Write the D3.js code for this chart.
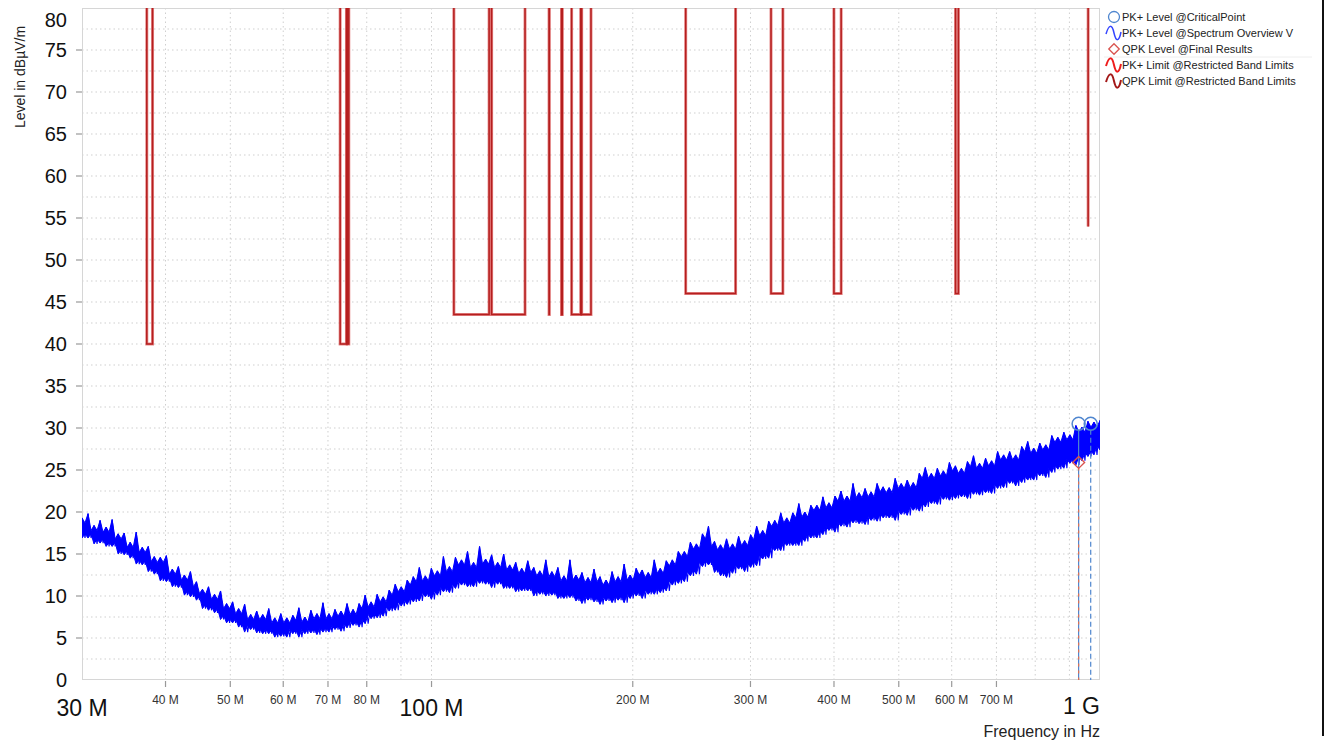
<!DOCTYPE html>
<html><head><meta charset="utf-8">
<script src="https://cdn.jsdelivr.net/npm/d3@7/dist/d3.min.js"></script>
<style>
html,body{margin:0;padding:0;background:#fff;}
svg{display:block;font-family:"Liberation Sans",Arial,sans-serif;}
</style></head>
<body>
<svg id="chart" width="1329" height="744"></svg>
<script>
// ---- data ----
const yTicks = [0,5,10,15,20,25,30,35,40,45,50,55,60,65,70,75,80];
const xMajorTicksMHz = [30, 100, 1000];
const xMajorLabels = ["30 M", "100 M", "1 G"];
const xMinorTicksMHz = [40, 50, 60, 70, 80, 200, 300, 400, 500, 600, 700];
const xMinorLabels = ["40 M","50 M","60 M","70 M","80 M","200 M","300 M","400 M","500 M","600 M","700 M"];
const xGridMHz = [40,50,60,70,80,90,100,200,300,400,500,600,700,800,900];

// restricted bands (MHz) and limit (dBµV/m)
const bandStartMHz = [37.5, 73, 74.8, 108, 123, 149.9, 156.52475, 156.7, 162.0125, 167.72, 240, 322, 399.9, 608, 960];
const bandStopMHz  = [38.25, 74.6, 75.2, 121.94, 138, 150.05, 156.52525, 156.9, 167.17, 173.2, 285, 335.4, 410, 614, 1240];
const bandLimit    = [40, 40, 40, 43.5, 43.5, 43.5, 43.5, 43.5, 43.5, 43.5, 46, 46, 46, 46, 54];

// spectrum overview sweep (30 MHz .. 1 GHz), per-bin max / min levels
const sweepStartMHz = 30, sweepStopMHz = 1000;
const traceMax = [19.3,19.8,18.4,19.0,18.2,19.1,17.4,17.5,16.4,17.6,15.8,15.9,14.7,14.6,14.8,13.2,13.5,12.5,12.9,11.7,
10.8,11.1,10.2,10.6,9.1,9.3,8.5,9.0,7.8,8.2,7.8,8.5,7.4,7.9,7.4,7.7,8.6,7.5,8.3,7.9,
9.2,7.9,8.4,8.2,9.1,8.4,9.1,10.1,9.3,10.2,9.9,10.7,11.4,11.1,11.9,12.3,13.4,12.4,13.3,13.0,
14.7,13.5,14.6,14.3,15.3,14.0,15.9,14.4,14.9,14.0,15.0,13.7,14.0,13.3,14.2,13.4,13.0,14.3,12.9,13.4,
12.4,14.3,12.5,12.8,12.2,13.2,12.3,11.9,12.9,12.3,13.8,12.5,13.3,13.1,12.8,14.3,13.3,14.2,14.3,15.3,
15.3,16.4,16.2,17.4,18.3,16.5,16.1,16.8,16.2,17.1,16.6,17.3,18.3,17.8,18.9,19.0,19.9,19.3,19.9,21.0,
20.0,20.8,20.8,21.8,21.1,21.9,22.5,21.9,23.4,22.3,22.8,22.4,23.4,23.0,22.9,24.0,23.4,23.8,23.5,24.6,
25.3,24.6,25.2,24.9,25.9,25.5,25.2,26.0,26.7,25.8,26.4,26.1,27.2,26.8,27.2,26.8,27.8,28.4,27.6,28.2,
28.0,29.1,28.9,29.5,29.2,30.3,30.1,30.8,30.7,30.9];
const traceMin = [16.9,16.9,16.2,16.3,15.9,15.9,15.0,14.9,14.5,13.8,13.7,12.9,12.6,11.8,11.7,11.1,11.0,10.1,9.9,9.5,
8.5,8.3,8.0,7.2,6.8,6.8,6.3,5.7,6.0,5.6,5.5,5.5,5.1,5.2,5.1,5.5,5.1,5.5,5.6,5.4,
5.7,5.7,6.0,5.8,6.2,6.5,6.3,6.7,7.3,7.4,7.6,8.2,8.3,8.8,9.0,9.3,9.4,9.9,9.6,10.1,
10.5,10.4,10.9,11.3,11.1,11.1,11.5,11.4,11.0,11.4,10.9,10.9,10.5,10.6,10.6,10.0,10.2,10.0,10.1,9.7,
9.7,9.8,9.4,9.1,9.5,9.3,9.0,9.4,9.2,9.5,9.2,9.7,10.0,9.7,10.2,10.2,10.4,10.6,11.3,11.5,
11.7,12.4,12.6,13.5,13.7,12.8,12.4,12.2,12.7,13.2,12.9,13.4,13.6,14.4,14.5,15.4,15.4,16.0,16.0,16.0,
16.5,16.9,16.9,17.3,17.8,17.6,18.3,18.2,18.7,18.6,18.5,19.0,18.9,19.3,19.3,19.0,19.7,19.6,20.2,20.1,
20.6,21.0,20.9,21.5,21.4,21.6,21.8,21.6,22.1,22.0,22.3,22.2,22.8,22.9,23.4,23.1,23.5,23.8,23.8,24.3,
24.1,24.7,25.1,25.2,25.8,25.6,26.1,26.6,26.8,27.4];

// critical points / final results
const critFreqMHz = [929, 968.5];
const critLevel = [30.5, 30.5];
const qpkFreqMHz = [929];
const qpkLevel = [25.9];

const legendLabels = ["PK+ Level @CriticalPoint","PK+ Level @Spectrum Overview V","QPK Level @Final Results","PK+ Limit @Restricted Band Limits","QPK Limit @Restricted Band Limits"];

// ---- drawing ----
const svg = d3.select("#chart");
const L = 82, R = 1100, T = 8, B = 680;
const x = d3.scaleLog().domain([30e6, 1e9]).range([L, R]);
const y = d3.scaleLinear().domain([0, 80]).range([B, T]);

svg.append("defs").append("clipPath").attr("id","plotclip")
  .append("rect").attr("x",L).attr("y",T).attr("width",R-L).attr("height",B-T);

// grid
const gridG = svg.append("g");
const yGrid = d3.range(0, 32).map(i => 2.5 * i).filter(v => v > 0 && v < 80);
gridG.selectAll("line.yg").data(yGrid).join("line")
  .attr("x1",L).attr("x2",R).attr("y1",d=>y(d)).attr("y2",d=>y(d))
  .attr("stroke","#cfcfcf").attr("stroke-width",1).attr("stroke-dasharray","1.5,3");
gridG.selectAll("line.xg").data(xGridMHz).join("line")
  .attr("x1",d=>x(d*1e6)).attr("x2",d=>x(d*1e6)).attr("y1",T).attr("y2",B)
  .attr("stroke","#cfcfcf").attr("stroke-width",1).attr("stroke-dasharray","1.5,3");

// frame
svg.append("rect").attr("x",L+0.5).attr("y",T+0.5).attr("width",R-L-1).attr("height",B-T-1)
  .attr("fill","none").attr("stroke","#d6d6d6").attr("stroke-width",1);

// y axis ticks & labels
svg.append("g").selectAll("line").data(yTicks.filter(v=>v<80 && v>0)).join("line")
  .attr("x1",L-6).attr("x2",L).attr("y1",d=>y(d)).attr("y2",d=>y(d))
  .attr("stroke","#999").attr("stroke-width",1.2);
svg.append("g").selectAll("text").data(yTicks).join("text")
  .attr("x",67).attr("y",d=>Math.max(y(d),20)+7)
  .attr("text-anchor","end").attr("font-size",20).attr("fill","#111")
  .text(d=>d);

// x axis ticks & labels
svg.append("g").selectAll("line").data(xMinorTicksMHz.concat([100])).join("line")
  .attr("x1",d=>x(d*1e6)).attr("x2",d=>x(d*1e6)).attr("y1",B+1).attr("y2",B+7)
  .attr("stroke","#999").attr("stroke-width",1.2);
svg.append("g").selectAll("text").data(xMinorTicksMHz).join("text")
  .attr("x",d=>x(d*1e6)).attr("y",B+24)
  .attr("text-anchor","middle").attr("font-size",12).attr("fill","#333")
  .text((d,i)=>xMinorLabels[i]);
svg.append("g").selectAll("text").data(xMajorTicksMHz).join("text")
  .attr("x",d=>Math.min(x(d*1e6), R)).attr("y",(d,i)=> i===2 ? B+34 : B+36)
  .attr("text-anchor",(d,i)=> i===2 ? "end" : "middle").attr("font-size",23).attr("fill","#111")
  .text((d,i)=>xMajorLabels[i]);

// axis titles
svg.append("text").attr("transform","translate(25,77) rotate(-90)")
  .attr("text-anchor","middle").attr("font-size",14).attr("fill","#222").text("Level in dBµV/m");
svg.append("text").attr("x",R).attr("y",737).attr("text-anchor","end")
  .attr("font-size",16).attr("fill","#222").text("Frequency in Hz");

const plot = svg.append("g").attr("clip-path","url(#plotclip)");

// spectrum overview trace: band between per-bin min and max, notched between bins
const N = traceMax.length;
const binF = i => sweepStartMHz * Math.pow(sweepStopMHz/sweepStartMHz, i/(N-1)) * 1e6;
const bins = traceMax.map((v,i)=>({f: binF(i), hi: v, lo: traceMin[i]}));
const upper = [], lower = [];
bins.forEach((d,i)=>{
  upper.push([d.f, d.hi]);
  lower.push([d.f, d.lo]);
  if (i < N-1) {
    const n = bins[i+1], fm = Math.sqrt(d.f*n.f);
    const top = Math.min(d.hi, n.hi), bot = Math.max(d.lo, n.lo);
    upper.push([fm, Math.max(top - 0.6, bot + 0.8)]);
    lower.push([fm, Math.min(bot + 0.5, top - 0.8)]);
  }
});
const bandPts = upper.map((u,k)=>({f:u[0], hi:u[1], lo:lower[k][1]}));
plot.append("path").datum(bandPts)
  .attr("d", d3.area().x(d=>x(d.f)).y0(d=>y(d.lo)).y1(d=>y(d.hi)))
  .attr("fill","#0000ff").attr("stroke","#0000ff").attr("stroke-width",1).attr("stroke-linejoin","miter");
// zig-zag through the per-bin extremes for the noisy texture
const zz = [];
bins.forEach((d,i)=>{
  const n = bins[Math.min(N-1,i+1)];
  zz.push([d.f, d.hi]);
  zz.push([Math.sqrt(d.f*n.f), d.lo]);
});
plot.append("path").datum(zz)
  .attr("d", d3.line().x(d=>x(d[0])).y(d=>y(d[1])))
  .attr("fill","none").attr("stroke","#0000ff").attr("stroke-width",1.1);

// limit lines
const TOPV = 120;
function limitSegs(){
  const segs = [];
  const dmax = x.domain()[1]/1e6;
  bandStartMHz.forEach((s,i)=>{
    const e = bandStopMHz[i], lv = bandLimit[i];
    if (e <= dmax) segs.push([[s,TOPV],[s,lv],[e,lv],[e,TOPV]]);
    else segs.push([[s,TOPV],[s,lv]]);
  });
  return segs;
}
const limLine = d3.line().x(d=>x(d[0]*1e6)).y(d=>y(d[1]));
plot.append("g").selectAll("path").data(limitSegs()).join("path")
  .attr("d",limLine).attr("fill","none").attr("stroke","#d84a4a").attr("stroke-width",3).attr("stroke-opacity",0.65);
plot.append("g").selectAll("path").data(limitSegs()).join("path")
  .attr("d",limLine).attr("fill","none").attr("stroke","#b51f1f").attr("stroke-width",1.5);

// critical points
plot.selectAll("line.crit").data(critFreqMHz).join("line")
  .attr("x1",d=>x(d*1e6)).attr("x2",d=>x(d*1e6))
  .attr("y1",(d,i)=>y(critLevel[i])+6).attr("y2",B)
  .attr("stroke","#4f86cf").attr("stroke-width",1.2)
  .attr("stroke-dasharray",(d,i)=> i===1 ? "5,3" : null);
plot.selectAll("line.qpk").data(qpkFreqMHz).join("line")
  .attr("x1",d=>x(d*1e6)).attr("x2",d=>x(d*1e6))
  .attr("y1",(d,i)=>y(qpkLevel[i])+5).attr("y2",B)
  .attr("stroke","#e07050").attr("stroke-width",1.2).attr("stroke-dasharray","3,4");
svg.append("g").selectAll("circle").data(critFreqMHz).join("circle")
  .attr("cx",d=>x(d*1e6)).attr("cy",(d,i)=>y(critLevel[i])).attr("r",6.5)
  .attr("fill","none").attr("stroke","#4f86cf").attr("stroke-width",1.5);
svg.append("g").selectAll("path").data(qpkFreqMHz).join("path")
  .attr("d",d3.symbol().type(d3.symbolDiamond2).size(90))
  .attr("transform",(d,i)=>`translate(${x(d*1e6)},${y(qpkLevel[i])})`)
  .attr("fill","none").attr("stroke","#d9534f").attr("stroke-width",1.4);

// legend
const lg = svg.append("g");
const ly = [17,33,49,65,81];
lg.selectAll("text").data(legendLabels).join("text")
  .attr("x",1122).attr("y",(d,i)=>ly[i]+4).attr("font-size",11).attr("fill","#222").text(d=>d);
lg.append("line").attr("x1",1104).attr("x2",1312).attr("y1",57).attr("y2",57).attr("stroke","#eee");
lg.append("circle").attr("cx",1114).attr("cy",ly[0]).attr("r",5.5).attr("fill","none").attr("stroke","#4f86cf").attr("stroke-width",1.3);
const wave = cy => `M1106,${cy+1} C1109,${cy-9} 1112,${cy-9} 1114,${cy} S1119,${cy+9} 1121,${cy-1}`;
lg.append("path").attr("d",wave(ly[1])).attr("fill","none").attr("stroke","#3344ff").attr("stroke-width",1.5);
lg.append("path").attr("d",d3.symbol().type(d3.symbolDiamond2).size(70)).attr("transform",`translate(1114,${ly[2]})`)
  .attr("fill","none").attr("stroke","#d9534f").attr("stroke-width",1.3);
lg.append("path").attr("d",wave(ly[3])).attr("fill","none").attr("stroke","#ee1c1c").attr("stroke-width",2);
lg.append("path").attr("d",wave(ly[4])).attr("fill","none").attr("stroke","#a31818").attr("stroke-width",2);

// right border line
svg.append("line").attr("x1",1323).attr("x2",1323).attr("y1",0).attr("y2",736).attr("stroke","#111").attr("stroke-width",2);
</script>
</body></html>
